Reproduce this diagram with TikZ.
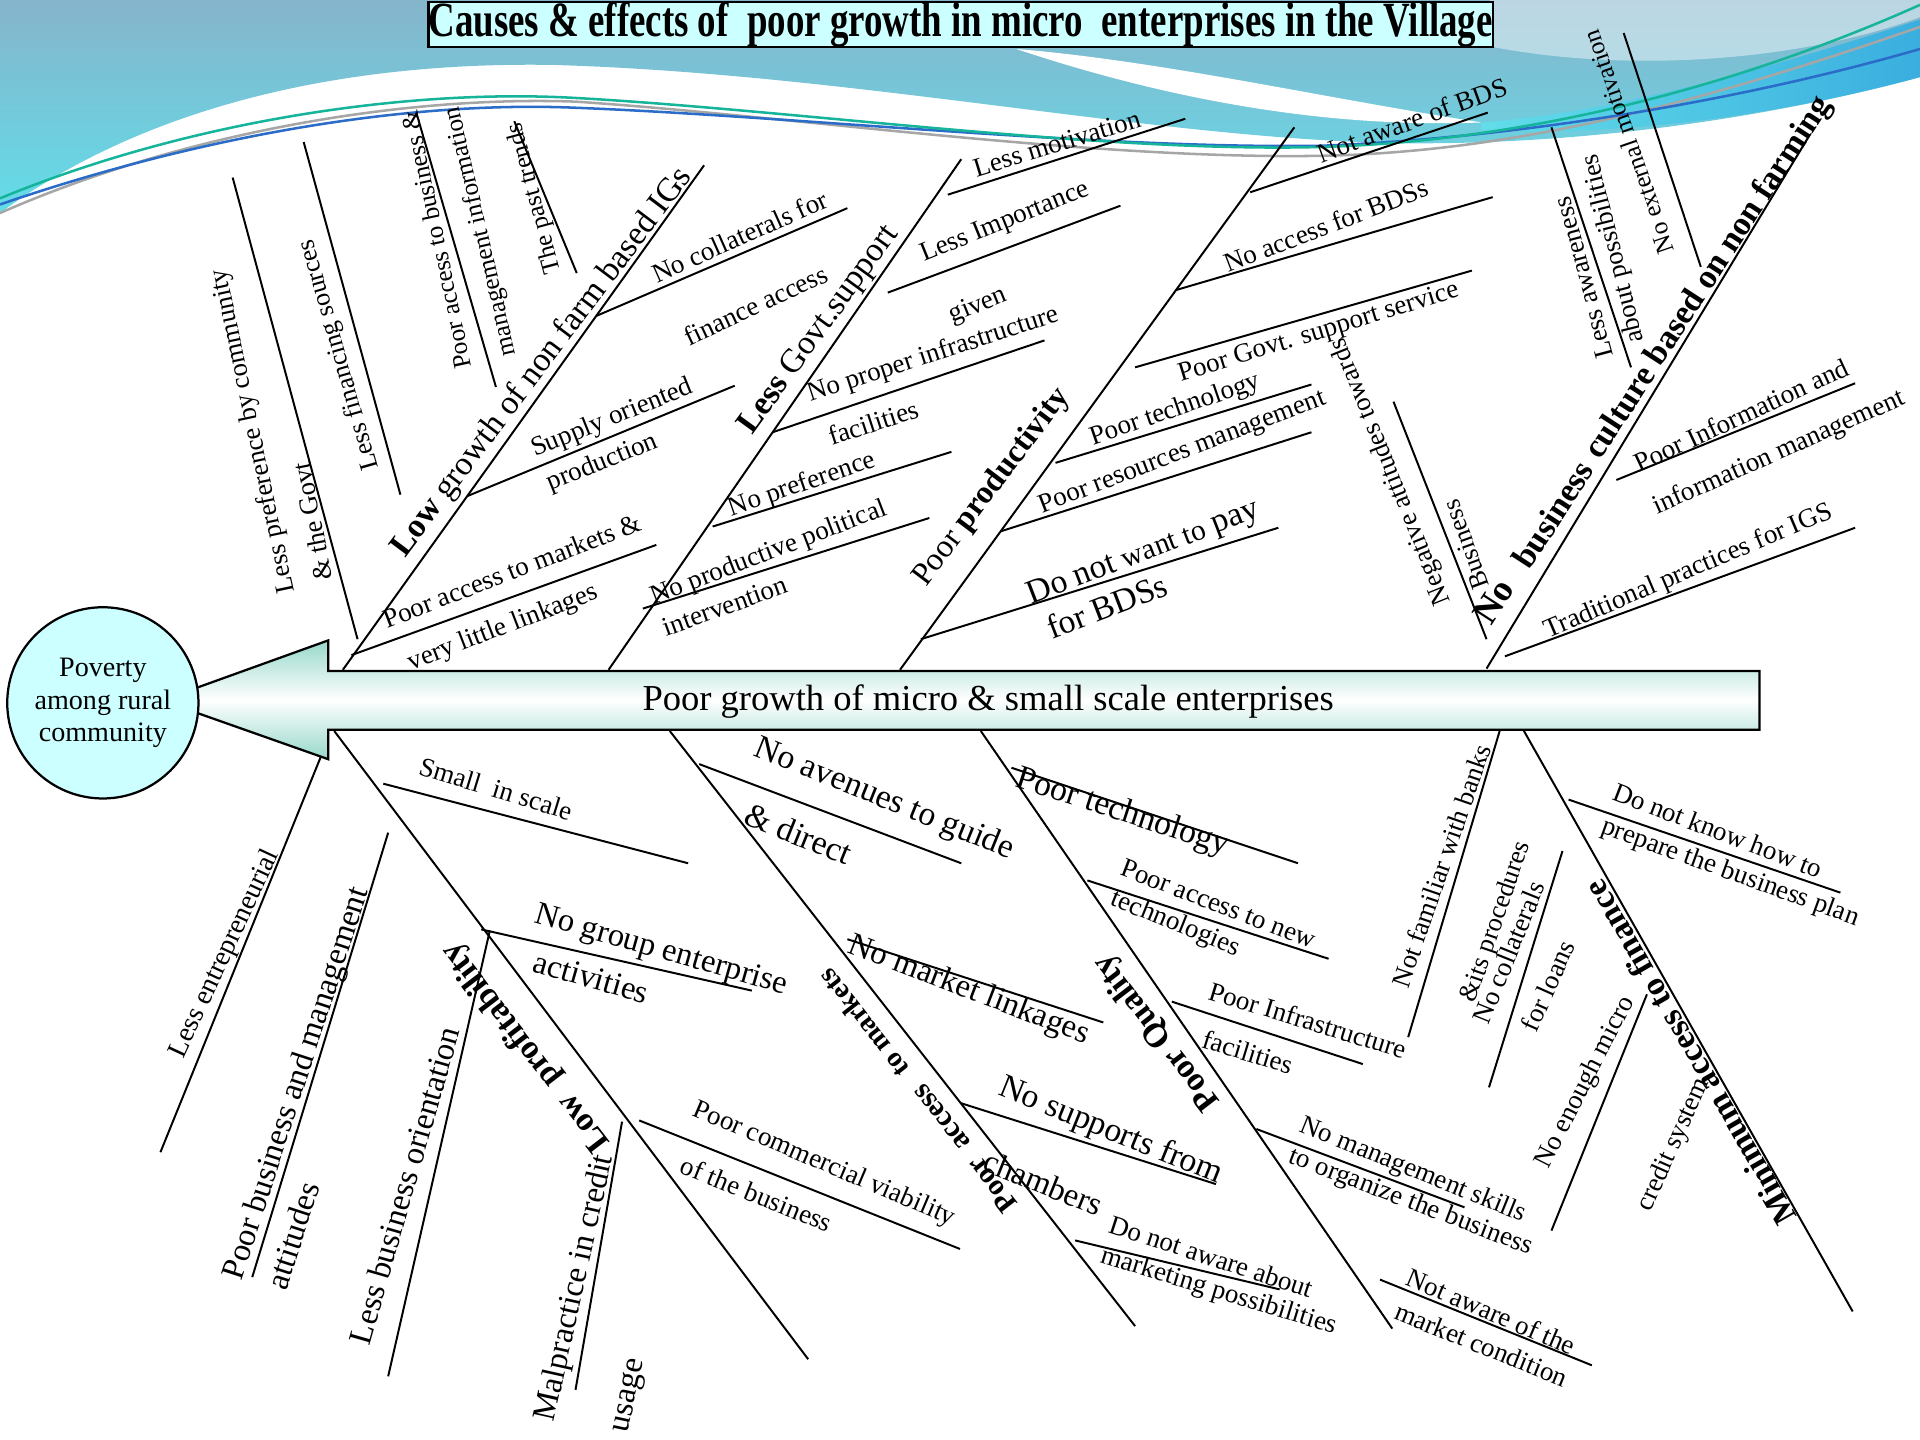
\documentclass[tikz,border=0pt]{standalone}
\usepackage{fontspec}
\setmainfont{Liberation Serif}
\newcommand{\fs}[1]{\fontsize{#1}{#1}\selectfont}
\definecolor{skyA}{HTML}{86B4CB}
\definecolor{skyB}{HTML}{62DDE9}
\definecolor{bandB}{HTML}{3AAEDF}
\definecolor{boxcyan}{HTML}{CCFFFF}
\definecolor{fintl}{HTML}{96D8CA}
\definecolor{curveA}{HTML}{16B49A}
\definecolor{curveB}{HTML}{2A6CC8}
\tikzset{
  bone/.style={line width=0.7pt},
  sm/.style={font=\fs{9.6}},
  md/.style={font=\fs{11.6}},
  hd/.style={font=\fs{12}\bfseries},
}
\begin{document}
\begin{tikzpicture}[x=0.015306cm,y=-0.015306cm]
\useasboundingbox (0,0) rectangle (1568,1176);
% backdrop waves
\shade[top color=skyA, bottom color=skyB] (0,0) -- (1568,0) -- (1568,63) .. controls (1450,95) and (1300,118) .. (1150,117) .. controls (950,115) and (700,60) .. (450,53) .. controls (250,50) and (100,100) .. (0,174) -- cycle;
\fill[white, opacity=0.45] (1217,0) -- (1568,0) -- (1568,14) .. controls (1470,50) and (1330,60) .. (1217,38) -- cycle;
\fill[white] (830,40) .. controls (950,50) and (1080,80) .. (1210,100) .. controls (1080,105) and (950,80) .. (830,40) -- cycle;
\shade[left color=skyB, right color=bandB] (1210,100) .. controls (1320,92) and (1450,54) .. (1568,16) -- (1568,63) .. controls (1450,95) and (1320,112) .. (1210,106) -- cycle;
\draw[gray!70, line width=0.9pt] (0,174) .. controls (150,108) and (330,78) .. (470,83) .. controls (650,95) and (900,132) .. (1090,127) .. controls (1250,122) and (1400,80) .. (1568,22);
\draw[curveB, line width=0.9pt] (0,167) .. controls (160,112) and (330,82) .. (470,88) .. controls (650,95) and (900,122) .. (1080,119) .. controls (1250,112) and (1430,80) .. (1568,40);
\draw[curveA, line width=0.9pt] (0,162) .. controls (150,100) and (330,72) .. (470,80) .. controls (650,90) and (900,125) .. (1080,120) .. controls (1250,115) and (1420,70) .. (1568,4);
% title
\node[draw, line width=0.8pt, fill=boxcyan, minimum width=13.24cm, minimum height=0.55cm, inner sep=0pt] (ttl) at (784.5,20) {\fs{17.5}\bfseries\scalebox{0.75}[1]{Causes \& effects of\ \ poor growth in micro\ \ enterprises in the Village}};
% spine and effect
\shadedraw[top color=fintl, bottom color=fintl, middle color=white, line width=0.8pt] (132,572) -- (268,523) -- (268,548) -- (1437,548) -- (1437,596) -- (268,596) -- (268,620) -- cycle;
\node[font=\fs{13}] (spine) at (807,573) {Poor growth of micro \& small scale enterprises};
\node[circle, draw, line width=0.8pt, fill=boxcyan, minimum size=2.39cm, align=center, font=\fontsize{10}{11.5}\selectfont] (pov) at (84,574) {Poverty\\among rural\\community};

% Low growth of non farm based IGs
\coordinate (a0) at (280,547); \coordinate (a1) at (575,135); \draw[bone] (a0) -- (a1);
\coordinate (a2) at (487,258); \coordinate (a3) at (692,170); \draw[bone] (a2) -- (a3);
\coordinate (a4) at (382,405); \coordinate (a5) at (600,315); \draw[bone] (a4) -- (a5);
\coordinate (a6) at (287,535); \coordinate (a7) at (536,445); \draw[bone] (a6) -- (a7);
\coordinate (a8) at (292,522); \coordinate (a9) at (190,145); \draw[bone] (a8) -- (a9);
\coordinate (a10) at (327,404); \coordinate (a11) at (248,116); \draw[bone] (a10) -- (a11);
\coordinate (a12) at (405,316); \coordinate (a13) at (340,92); \draw[bone] (a12) -- (a13);
\coordinate (a14) at (471,223); \coordinate (a15) at (420,99); \draw[bone] (a14) -- (a15);
\node[rotate=53, font=\fs{12}] (ig) at (443,296) {\textbf{Low} growth of non farm based IGs};
\node[rotate=24, sm] (ig1) at (604,193) {No collaterals for};
\node[rotate=25, sm] (ig2) at (617,249) {finance access};
\node[rotate=22, sm] (ig3) at (500,342) {Supply oriented};
\node[rotate=22, sm] (ig4) at (492,378) {production};
\node[rotate=21, sm] (ig5) at (418,466) {Poor access to markets \&};
\node[rotate=21, sm] (ig6) at (411,513) {very little linkages};
\node[rotate=102, font=\fs{9.5}] (ig7) at (207,352) {Less preference by community};
\node[rotate=101, font=\fs{9.5}] (ig8) at (255,426) {\& the Govt};
\node[rotate=106, font=\fs{9.3}] (ig9) at (277,290) {Less financing sources};
\node[rotate=102, font=\fs{9}] (ig10) at (356,196) {Poor access to business \&};
\node[rotate=103, font=\fs{9}] (ig11) at (393,189) {management information};
\node[rotate=105, font=\fs{9}] (ig12) at (437,162) {The past trends};

% Less Govt. support
\coordinate (b0) at (497,547); \coordinate (b1) at (785,130); \draw[bone] (b0) -- (b1);
\coordinate (b2) at (774,159); \coordinate (b3) at (968,97); \draw[bone] (b2) -- (b3);
\coordinate (b4) at (725,239); \coordinate (b5) at (915,168); \draw[bone] (b4) -- (b5);
\coordinate (b6) at (631,353); \coordinate (b7) at (853,278); \draw[bone] (b6) -- (b7);
\coordinate (b8) at (582,430); \coordinate (b9) at (777,369); \draw[bone] (b8) -- (b9);
\coordinate (b10) at (525,497); \coordinate (b11) at (759,423); \draw[bone] (b10) -- (b11);
\node[rotate=54, font=\fs{12}] (gv) at (669,270) {\textbf{Less} Govt.support};
\node[rotate=17, sm] (gv1) at (863,117) {Less motivation};
\node[rotate=22, sm] (gv2) at (821,182) {Less Importance};
\node[rotate=22, sm] (gv3) at (799,250) {given};
\node[rotate=18, sm] (gv4) at (762,290) {No proper infrastructure};
\node[rotate=18, sm] (gv5) at (713,345) {facilities};
\node[rotate=19, sm] (gv6) at (655,396) {No preference};
\node[rotate=21, sm] (gv7) at (628,452) {No productive political};
\node[rotate=20, sm] (gv8) at (592,495) {intervention};

% Poor productivity
\coordinate (c0) at (735,547); \coordinate (c1) at (1057,104); \draw[bone] (c0) -- (c1);
\coordinate (c2) at (1021,157); \coordinate (c3) at (1215,92); \draw[bone] (c2) -- (c3);
\coordinate (c4) at (960,237); \coordinate (c5) at (1219,161); \draw[bone] (c4) -- (c5);
\coordinate (c6) at (927,300); \coordinate (c7) at (1202,221); \draw[bone] (c6) -- (c7);
\coordinate (c8) at (862,378); \coordinate (c9) at (1071,314); \draw[bone] (c8) -- (c9);
\coordinate (c10) at (817,434); \coordinate (c11) at (1071,353); \draw[bone] (c10) -- (c11);
\coordinate (c12) at (752,522); \coordinate (c13) at (1044,431); \draw[bone] (c12) -- (c13);
\node[rotate=53, font=\fs{11.5}] (pr) at (810,398) {Poor \textbf{productivity}};
\node[rotate=20, sm] (pr1) at (1153,98) {Not aware of BDS};
\node[rotate=21, sm] (pr2) at (1083,184) {No access for BDSs};
\node[rotate=17, sm] (pr3) at (1077,272) {Poor Govt. support service};
\node[rotate=19, sm] (pr4) at (960,335) {Poor technology};
\node[rotate=21, sm] (pr5) at (966,370) {Poor resources management};
\node[rotate=21, font=\fs{12}] (pr6) at (934,452) {Do not {\fs{10.5}want to} pay};
\node[rotate=21, font=\fs{12}] (pr7) at (904,495) {for BDSs};

% No business culture based on non farming
\coordinate (d0) at (1214,546); \coordinate (d1) at (1478,110); \draw[bone] (d0) -- (d1);
\coordinate (d2) at (1229,536); \coordinate (d3) at (1515,431); \draw[bone] (d2) -- (d3);
\coordinate (d4) at (1320,392); \coordinate (d5) at (1515,313); \draw[bone] (d4) -- (d5);
\coordinate (d6) at (1214,522); \coordinate (d7) at (1138,328); \draw[bone] (d6) -- (d7);
\coordinate (d8) at (1332,300); \coordinate (d9) at (1267,104); \draw[bone] (d8) -- (d9);
\coordinate (d10) at (1389,218); \coordinate (d11) at (1326,27); \draw[bone] (d10) -- (d11);
\node[rotate=57, hd, font=\fs{13}\bfseries] (cu) at (1220,491) {No};
\node[rotate=57, hd] (cu1) at (1268,420) {business};
\node[rotate=57, hd] (cu2) at (1396,227) {culture based on non farming};
\node[rotate=23, sm] (cu3) at (1379,467) {Traditional practices for IGS};
\node[rotate=25, sm] (cu4) at (1422,339) {Poor Information and};
\node[rotate=24, sm] (cu5) at (1453,370) {information management};
\node[rotate=112, font=\fs{9.5}] (cu6) at (1136,385) {Negative attitudes towards};
\node[rotate=110, font=\fs{9.3}] (cu7) at (1197,445) {Business};
\node[rotate=105, font=\fs{9.5}] (cu8) at (1293,227) {Less awareness};
\node[rotate=104, font=\fs{9.5}] (cu9) at (1318,203) {about possibilities};
\node[rotate=109, font=\fs{9}] (cu10) at (1330,116) {No external motivation};

% Low profitability
\coordinate (e0) at (273,597); \coordinate (e1) at (660,1110); \draw[bone] (e0) -- (e1);
\coordinate (e2) at (313,640); \coordinate (e3) at (562,705); \draw[bone] (e2) -- (e3);
\coordinate (e4) at (393,759); \coordinate (e5) at (614,809); \draw[bone] (e4) -- (e5);
\coordinate (e6) at (522,915); \coordinate (e7) at (784,1020); \draw[bone] (e6) -- (e7);
\coordinate (e8) at (262,618); \coordinate (e9) at (131,941); \draw[bone] (e8) -- (e9);
\coordinate (e10) at (317,680); \coordinate (e11) at (206,1043); \draw[bone] (e10) -- (e11);
\coordinate (e12) at (400,760); \coordinate (e13) at (317,1124); \draw[bone] (e12) -- (e13);
\coordinate (e14) at (508,916); \coordinate (e15) at (470,1135); \draw[bone] (e14) -- (e15);
\node[rotate=127.5, hd] (lp) at (430,855) {Low\ \ profitability};
\node[rotate=-17, sm] (lp1) at (405,644) {Small\ \ in scale};
\node[rotate=-16, md] (lp2) at (540,777) {No group enterprise};
\node[rotate=-16, md] (lp3) at (483,798) {activities};
\node[rotate=-23, sm] (lp4) at (673,951) {Poor commercial viability};
\node[rotate=-22, sm] (lp5) at (618,975) {of the business};
\node[rotate=65, font=\fs{9.9}] (lp6) at (184,779) {Less entrepreneurial};
\node[rotate=72, md] (lp7) at (243,885) {Poor business and management};
\node[rotate=72, md] (lp8) at (239,1009) {attitudes};
\node[rotate=74, md] (lp9) at (330,968) {Less business orientation};
\node[rotate=77.5, md] (lp10) at (470,1052) {Malpractice in credit};
\node[rotate=78, md] (lp11) at (515,1140) {usage};

% Poor access to markets
\coordinate (f0) at (547,597); \coordinate (f1) at (927,1083); \draw[bone] (f0) -- (f1);
\coordinate (f2) at (571,624); \coordinate (f3) at (785,705); \draw[bone] (f2) -- (f3);
\coordinate (f4) at (692,767); \coordinate (f5) at (901,835); \draw[bone] (f4) -- (f5);
\coordinate (f6) at (785,901); \coordinate (f7) at (993,967); \draw[bone] (f6) -- (f7);
\coordinate (f8) at (878,1013); \coordinate (f9) at (1045,1053); \draw[bone] (f8) -- (f9);
\node[rotate=128, font=\fs{10.5}\bfseries] (mk) at (810,968) {Poor};
\node[rotate=128, font=\fs{10.5}\bfseries] (mk1) at (770,912) {access};
\node[rotate=128, font=\fs{10}\bfseries] (mk2) at (705,836) {to markets};
\node[rotate=-22, font=\fs{12}] (mk3) at (722,653) {No avenues to guide};
\node[rotate=-22, font=\fs{12}] (mk4) at (652,681) {\& direct};
\node[rotate=-21, md] (mk5) at (791,809) {No market linkages};
\node[rotate=-22, font=\fs{12}] (mk6) at (907,924) {No supports from};
\node[rotate=-22, md] (mk7) at (852,966) {chambers};
\node[rotate=-18, sm] (mk8) at (989,1026) {Do not aware about};
\node[rotate=-17, sm] (mk9) at (995,1055) {marketing possibilities};

% Poor Quality
\coordinate (g0) at (801,597); \coordinate (g1) at (1137,1085); \draw[bone] (g0) -- (g1);
\coordinate (g2) at (826,627); \coordinate (g3) at (1060,705); \draw[bone] (g2) -- (g3);
\coordinate (g4) at (888,719); \coordinate (g5) at (1085,783); \draw[bone] (g4) -- (g5);
\coordinate (g6) at (957,818); \coordinate (g7) at (1113,869); \draw[bone] (g6) -- (g7);
\coordinate (g8) at (1026,922); \coordinate (g9) at (1196,986); \draw[bone] (g8) -- (g9);
\coordinate (g10) at (1127,1045); \coordinate (g11) at (1300,1115); \draw[bone] (g10) -- (g11);
\node[rotate=127.5, hd] (qu) at (945,843) {Poor Quality};
\node[rotate=-18, font=\fs{12}] (qu1) at (917,664) {Poor technology};
\node[rotate=-21, sm] (qu2) at (995,738) {Poor access to new};
\node[rotate=-22, sm] (qu3) at (960,755) {technologies};
\node[rotate=-17, sm] (qu4) at (1068,833) {Poor Infrastructure};
\node[rotate=-17, sm] (qu5) at (1019,859) {facilities};
\node[rotate=-22, sm] (qu6) at (1154,956) {No management skills};
\node[rotate=-21, sm] (qu7) at (1152,982) {to organize the business};
\node[rotate=-23, sm] (qu8) at (1218,1071) {Not aware of the};
\node[rotate=-22, sm] (qu9) at (1210,1098) {market condition};

% Minimum access to finance
\coordinate (h0) at (1244,596); \coordinate (h1) at (1513,1071); \draw[bone] (h0) -- (h1);
\coordinate (h2) at (1281,653); \coordinate (h3) at (1503,729); \draw[bone] (h2) -- (h3);
\coordinate (h4) at (1225,596); \coordinate (h5) at (1150,847); \draw[bone] (h4) -- (h5);
\coordinate (h6) at (1276,695); \coordinate (h7) at (1216,888); \draw[bone] (h6) -- (h7);
\coordinate (h8) at (1345,812); \coordinate (h9) at (1267,1005); \draw[bone] (h8) -- (h9);
\node[rotate=120, hd] (fi) at (1380,860) {Minimum access to finance};
\node[rotate=-21, sm] (fi1) at (1403,678) {Do not know how to};
\node[rotate=-20, sm] (fi2) at (1413,713) {prepare the business plan};
\node[rotate=71, font=\fs{9.5}] (fi3) at (1177,707) {Not familiar with banks};
\node[rotate=71, font=\fs{9.4}] (fi4) at (1222,753) {\&its procedures};
\node[rotate=68, sm] (fi5) at (1232,778) {No collaterals};
\node[rotate=66, sm] (fi6) at (1264,805) {for loans};
\node[rotate=63, sm] (fi7) at (1295,884) {No enough micro};
\node[rotate=66, sm] (fi8) at (1367,935) {credit system};
\end{tikzpicture}
\end{document}
